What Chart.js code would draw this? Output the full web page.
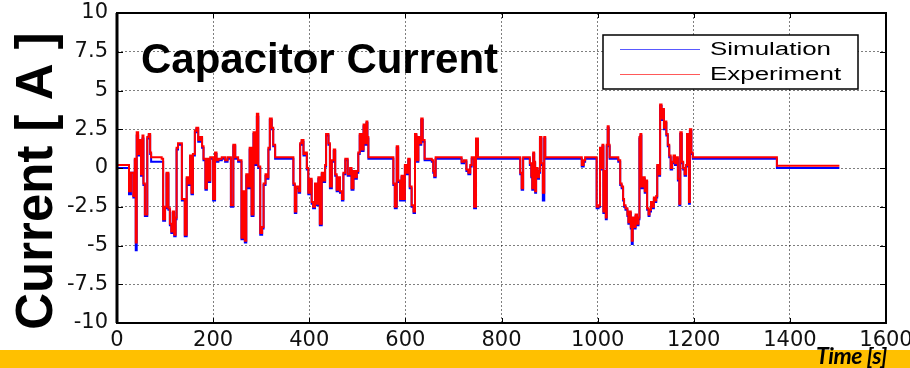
<!DOCTYPE html>
<html>
<head>
<meta charset="utf-8">
<script src="https://cdn.jsdelivr.net/npm/chart.js@4/dist/chart.umd.min.js"></script>
<style>
  body { margin: 0; background: #fff; }
  #wrap { position: relative; width: 910px; height: 368px; overflow: hidden; }
  #capChart { position: absolute; left: 0; top: 0; }
  #bar { position: absolute; left: 0; top: 350px; width: 910px; height: 18px; background: #ffc000; }
  #xname { position: absolute; left: 816px; top: 341px; font: italic bold 23px Lato, "Open Sans", sans-serif; color: #000; letter-spacing: -0.5px; }
</style>
</head>
<body>
<div id="wrap">
  <canvas id="capChart" width="910" height="350"></canvas>
  <div id="bar"></div>
  <div id="xname">Time [s]</div>
</div>
<script>
// time stamps [s], shared by both traces (value holds until the next stamp)
const timeS = [
  0, 25, 29, 34, 37, 39, 41, 44, 47, 50,
  53, 55, 58, 63, 66, 69, 71, 93, 96, 100,
  103, 107, 110, 113, 116, 119, 122, 124, 127, 135,
  141, 145, 149, 152, 155, 158, 162, 165, 169, 173,
  177, 180, 184, 187, 190, 194, 200, 204, 207, 211,
  218, 225, 230, 237, 242, 246, 252, 259, 263, 266,
  269, 273, 276, 280, 284, 287, 291, 294, 298, 302,
  305, 309, 312, 315, 318, 322, 325, 329, 367, 370,
  373, 378, 381, 384, 388, 392, 395, 398, 401, 405,
  408, 412, 415, 419, 422, 426, 430, 433, 435, 440,
  443, 447, 451, 454, 457, 461, 464, 468, 471, 475,
  480, 485, 488, 492, 495, 499, 502, 505, 509, 513,
  516, 519, 521, 523, 575, 578, 582, 585, 589, 592,
  596, 599, 603, 606, 609, 613, 617, 620, 623, 627,
  630, 633, 636, 640, 655, 658, 660, 663, 717, 722,
  727, 731, 735, 738, 743, 747, 751, 839, 842, 845,
  859, 862, 864, 866, 868, 870, 872, 875, 878, 880,
  883, 886, 889, 891, 967, 971, 974, 998, 1002, 1005,
  1008, 1010, 1012, 1015, 1017, 1019, 1021, 1023, 1025, 1043,
  1047, 1050, 1053, 1055, 1058, 1062, 1064, 1066, 1069, 1071,
  1073, 1076, 1079, 1082, 1085, 1087, 1089, 1091, 1095, 1098,
  1101, 1103, 1106, 1108, 1111, 1114, 1117, 1120, 1122, 1124,
  1127, 1130, 1133, 1136, 1138, 1140, 1143, 1146, 1149, 1152,
  1155, 1158, 1161, 1164, 1167, 1170, 1172, 1175, 1178, 1181,
  1184, 1186, 1188, 1190, 1192, 1195, 1198, 1373, 1503
];

// measured capacitor current [A]
const experimentA = [
  0.2, -1.5, -0.3, -1.8, 0.6, -4.8, 2.3, 0.9, 1.8, -0.4,
  2.1, -1.0, -3.0, 2.0, 2.2, 1.0, 0.7, 0.6, -3.3, -2.5,
  -0.3, -2.6, -3.6, -4.1, -2.8, -4.3, -3.2, 1.3, 1.6, -2.0,
  -4.3, -0.6, -1.0, 0.8, -1.6, 0.9, 2.4, 2.6, 1.8, 2.0,
  1.4, 0.6, -1.3, 0.6, -0.8, 0.7, -2.0, 1.0, 0.5, 0.6,
  0.7, 0.5, 0.7, -2.4, 1.5, 0.7, 0.5, -4.5, -1.5, -4.7,
  -0.4, -1.2, 1.3, -3.0, 2.3, 0.3, 3.5, 0.1, -4.2, -3.8,
  -1.0, -0.4, -0.6, 1.3, 3.2, 2.6, 1.5, 0.7, -1.0, -2.8,
  -1.2, -1.5, 1.6, 1.8, 0.9, 1.0, 0.0, -1.6, -0.7, -2.2,
  -2.5, -1.0, -2.3, -0.6, -3.6, -0.3, -0.8, 0.2, 2.2, 1.6,
  -1.2, 0.5, 1.2, -0.4, -1.4, -0.6, -1.5, -2.0, -0.3, 0.6,
  -0.4, 0.0, -1.3, -0.2, -0.6, -0.2, 1.0, 2.2, 1.2, 2.8,
  1.6, 3.0, 2.0, 0.7, -1.0, -2.5, 1.4, -0.8, -2.0, -0.5,
  -2.0, 0.2, -0.3, 0.6, -1.2, -2.4, -2.8, 2.2, 0.5, 2.0,
  1.6, 3.2, 1.8, 0.6, 0.5, -0.2, -0.5, 0.7, 0.4, 0.5,
  -0.1, -0.3, 0.2, 0.7, -2.5, 1.9, 0.7, -0.3, -1.3, 0.7,
  0.3, -0.5, -1.3, 1.0, 0.4, -1.5, 0.0, -0.6, -0.2, 2.0,
  0.3, -1.6, 2.0, 0.7, 0.2, 0.5, 0.7, -2.5, -2.4, 1.3,
  0.0, 1.5, -2.8, -0.2, -3.2, 1.5, 2.7, 1.5, 0.7, 0.5,
  -1.0, -1.2, -2.0, -2.4, -2.6, -3.0, -3.5, -2.8, -3.8, -4.7,
  -3.2, -3.8, -3.0, -3.6, -3.2, 2.0, 2.2, -1.2, -0.6, -1.5,
  -0.8, -2.6, -3.0, -2.7, -2.2, -2.5, -1.9, -2.1, -1.8, 0.2,
  -0.4, 4.1, 3.2, 3.8, 2.6, 3.0, 2.2, 1.5, 0.8, 0.0,
  0.4, 0.8, 0.3, 0.7, -0.7, -2.3, 2.3, 0.4, 0.0, -0.4,
  0.2, 2.2, 0.6, -2.2, 2.5, 1.0, 0.7, 0.15, 0.15
];

// simulated capacitor current [A]
const simulationA = [
  0.0, -1.7, -0.3, -1.9, 0.5, -5.3, 2.1, 0.8, 1.7, -0.5,
  1.9, -1.1, -3.1, 1.9, 2.1, 0.9, 0.4, 0.4, -3.4, -2.6,
  -0.4, -2.7, -3.7, -4.2, -2.9, -4.4, -3.3, 1.2, 1.5, -2.1,
  -4.4, -0.7, -1.1, 0.7, -1.7, 0.8, 2.3, 2.5, 1.7, 1.9,
  1.3, 0.5, -1.4, 0.5, -0.9, 0.6, -2.1, 0.9, 0.4, 0.5,
  0.6, 0.4, 0.6, -2.5, 1.4, 0.6, 0.4, -4.6, -1.6, -4.8,
  -0.5, -1.3, 1.2, -3.1, 2.2, 0.2, 3.3, 0.0, -4.3, -3.9,
  -1.1, -0.5, -0.7, 1.2, 3.1, 2.5, 1.4, 0.6, -1.1, -2.9,
  -1.3, -1.6, 1.5, 1.7, 0.8, 0.9, -0.1, -1.7, -0.8, -2.3,
  -2.6, -1.1, -2.4, -0.7, -3.7, -0.4, -0.9, 0.1, 2.1, 1.5,
  -1.3, 0.4, 1.1, -0.5, -1.5, -0.7, -1.6, -2.1, -0.4, 0.5,
  -0.5, -0.1, -1.4, -0.3, -0.7, -0.3, 0.9, 2.1, 1.1, 2.7,
  1.5, 2.9, 1.9, 0.6, -1.1, -2.6, 1.3, -0.9, -2.1, -0.6,
  -2.1, 0.1, -0.4, 0.5, -1.3, -2.5, -2.9, 2.1, 0.4, 1.9,
  1.5, 3.1, 1.7, 0.5, 0.4, -0.3, -0.6, 0.6, 0.3, 0.4,
  -0.2, -0.4, 0.1, 0.6, -2.6, 1.8, 0.6, -0.4, -1.4, 0.6,
  0.2, -0.6, -1.4, 0.9, 0.3, -1.6, -0.1, -0.7, -0.3, 1.9,
  0.2, -2.1, 1.9, 0.6, 0.1, 0.4, 0.6, -2.6, -2.5, 1.2,
  -0.1, 1.4, -2.9, -0.3, -3.3, 1.4, 2.6, 1.4, 0.6, 0.4,
  -1.1, -1.3, -2.1, -2.5, -2.7, -3.1, -3.6, -2.9, -3.9, -4.9,
  -3.3, -3.9, -3.1, -3.7, -3.3, 1.9, 2.1, -1.3, -0.7, -1.6,
  -0.9, -2.7, -3.1, -2.8, -2.3, -2.6, -2.0, -2.2, -1.9, 0.1,
  -0.5, 4.0, 3.1, 3.7, 2.5, 2.9, 2.1, 1.4, 0.7, -0.1,
  0.3, 0.7, 0.2, 0.6, -0.8, -2.4, 2.2, 0.3, -0.1, -0.5,
  0.1, 2.1, 0.5, -2.3, 2.4, 0.9, 0.6, 0.0, 0.0
];

const xTicks = [0, 200, 400, 600, 800, 1000, 1200, 1400, 1600];
const yTicks = [-10, -7.5, -5, -2.5, 0, 2.5, 5, 7.5, 10];

const seriesNames = ['Simulation', 'Experiment'];
const seriesColors = ['#0000ff', '#ff0000'];

// matlab style extras: box, inner ticks, titles, legend
const matlabBits = {
  id: 'matlabBits',
  afterDatasetsDraw(chart) {
    const ctx = chart.ctx;
    const a = chart.chartArea;
    const xs = chart.scales.x, ys = chart.scales.y;
    ctx.save();

    // tick marks pointing inward
    ctx.strokeStyle = '#000';
    ctx.lineWidth = 1;
    ctx.beginPath();
    yTicks.forEach(v => {
      const y = Math.round(ys.getPixelForValue(v)) + 0.5;
      ctx.moveTo(a.left, y); ctx.lineTo(a.left + 6, y);
      ctx.moveTo(a.right, y); ctx.lineTo(a.right - 6, y);
    });
    xTicks.forEach(v => {
      const x = Math.round(xs.getPixelForValue(v)) + 0.5;
      ctx.moveTo(x, a.bottom); ctx.lineTo(x, a.bottom - 5);
      ctx.moveTo(x, a.top); ctx.lineTo(x, a.top + 5);
    });
    ctx.stroke();

    // box
    ctx.lineWidth = 2;
    ctx.strokeRect(a.left, a.top, a.right - a.left, a.bottom - a.top);
    ctx.lineWidth = 3;
    ctx.beginPath();
    ctx.moveTo(a.left, a.top); ctx.lineTo(a.left, a.bottom);
    ctx.stroke();

    // plot title inside the axes
    ctx.fillStyle = '#000';
    ctx.font = 'bold 42px "Liberation Sans", Arial, sans-serif';
    ctx.textAlign = 'left';
    ctx.textBaseline = 'alphabetic';
    ctx.fillText('Capacitor Current', 141, 73);

    // legend
    const lx = 603, ly = 35, lw = 255, lh = 54;
    ctx.fillStyle = '#fff';
    ctx.fillRect(lx, ly, lw, lh);
    ctx.lineWidth = 1.5;
    ctx.strokeStyle = '#000';
    ctx.strokeRect(lx, ly, lw, lh);
    ctx.font = '18px "Liberation Sans", Arial, sans-serif';
    ctx.textBaseline = 'middle';
    seriesNames.forEach((name, i) => {
      const yy = ly + 14 + i * 25;
      ctx.strokeStyle = seriesColors[i];
      ctx.globalAlpha = 0.65;
      ctx.lineWidth = 1;
      ctx.beginPath();
      ctx.moveTo(lx + 17, yy + 0.5); ctx.lineTo(lx + 97, yy + 0.5);
      ctx.stroke();
      ctx.globalAlpha = 1;
      ctx.save();
      ctx.translate(lx + 107, yy + 1);
      ctx.scale(1.44, 1);
      ctx.fillStyle = '#000';
      ctx.fillText(name, 0, 0);
      ctx.restore();
    });

    // y axis title
    ctx.save();
    ctx.translate(38, 181);
    ctx.rotate(-Math.PI / 2);
    ctx.font = 'bold 51px "Liberation Sans", Arial, sans-serif';
    ctx.textAlign = 'center';
    ctx.textBaseline = 'middle';
    ctx.fillStyle = '#000';
    ctx.fillText('Current [ A ]', 0, 0);
    ctx.restore();

    ctx.restore();
  }
};

const makeData = vals => timeS.map((t, i) => ({ x: t, y: vals[i] }));

const configCap = {
  type: 'line',
  data: {
    datasets: [
      {
        label: seriesNames[1],
        data: makeData(experimentA),
        borderColor: seriesColors[1],
        borderWidth: 2,
        stepped: true,
        pointRadius: 0,
        fill: false
      },
      {
        label: seriesNames[0],
        data: makeData(simulationA),
        borderColor: seriesColors[0],
        borderWidth: 2,
        stepped: true,
        pointRadius: 0,
        fill: false
      }
    ]
  },
  options: {
    responsive: false,
    devicePixelRatio: 1,
    animation: false,
    layout: { padding: { left: 0, top: 13, right: 24, bottom: 0 } },
    plugins: { legend: { display: false }, tooltip: { enabled: false } },
    scales: {
      x: {
        type: 'linear',
        min: 0,
        max: 1600,
        afterBuildTicks: s => { s.ticks = xTicks.map(v => ({ value: v })); },
        afterFit: s => { s.height = 27; s.paddingLeft = 0; s.paddingRight = 0; },
        ticks: {
          color: '#111',
          padding: 5,
          maxRotation: 0,
          autoSkip: false,
          callback: v => String(v),
          font: { family: '"DejaVu Sans"', size: 21 }
        },
        grid: { color: 'rgba(0,0,0,0.5)', lineWidth: 1, tickLength: 0 },
        border: { display: false, dash: [2, 2] }
      },
      y: {
        min: -10,
        max: 10,
        afterBuildTicks: s => { s.ticks = yTicks.map(v => ({ value: v })); },
        afterFit: s => { s.width = 117; s.paddingTop = 0; s.paddingBottom = 0; },
        ticks: {
          color: '#111',
          padding: 9,
          autoSkip: false,
          callback: v => String(v),
          font: { family: '"DejaVu Sans"', size: 21 }
        },
        grid: { color: 'rgba(0,0,0,0.5)', lineWidth: 1, tickLength: 0 },
        border: { display: false, dash: [2, 2] }
      }
    }
  },
  plugins: [matlabBits]
};

const capChart = new Chart(document.getElementById('capChart'), configCap);
</script>
</body>
</html>
